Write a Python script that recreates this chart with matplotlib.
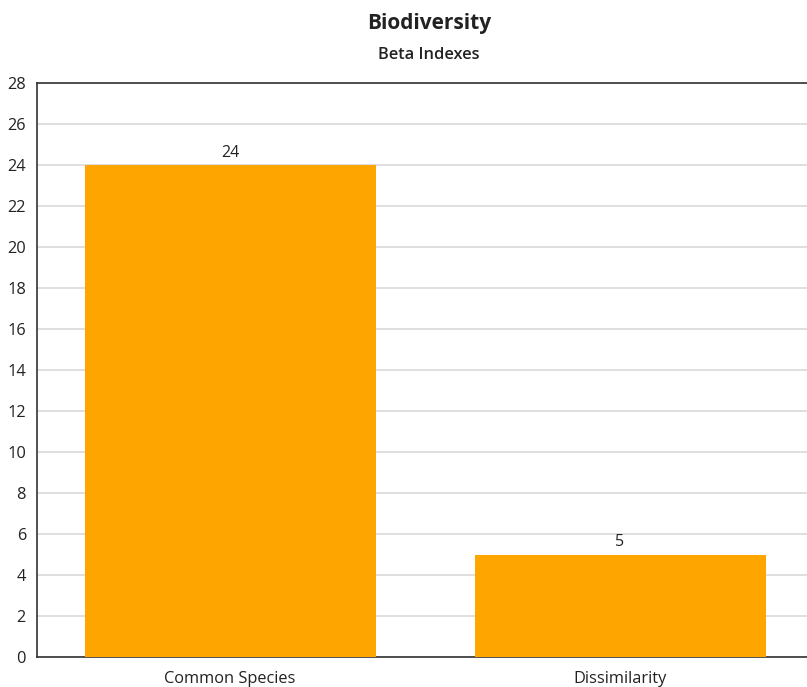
import matplotlib
matplotlib.use("Agg")
import matplotlib.pyplot as plt

plt.rcParams['font.family'] = ['Open Sans', 'DejaVu Sans']

categories = ["Common Species", "Dissimilarity"]
values = [24, 5]
y_ticks = list(range(0, 29, 2))

title = "Biodiversity"
subtitle = "Beta Indexes"

fig = plt.figure(figsize=(8.07, 6.87), dpi=100)
W, H = 807, 687
# plot area runs a little past the right edge of the canvas
ax = fig.add_axes([37 / W, (H - 657) / H, 780 / W, 574 / H])

x = range(len(categories))
bars = ax.bar(x, values, width=0.746, color="#FFA500", zorder=3)
for xi, v in zip(x, values):
    ax.text(xi, v + 0.2, f"{v}", ha="center", va="bottom",
            fontsize=11.5, color="#222222", zorder=4)

ax.set_xlim(-0.495, len(categories) - 0.495)
ax.set_ylim(0, 28)
ax.set_yticks(y_ticks)
ax.set_xticks(list(x))
ax.set_xticklabels(categories)
ax.tick_params(axis="both", length=0, labelsize=11.8, colors="#222222")
ax.tick_params(axis="y", pad=8)
ax.tick_params(axis="x", pad=10)

ax.yaxis.grid(True, color="#d9d9d9", linewidth=1.2, zorder=0)
ax.set_axisbelow(True)
for side in ["left", "bottom", "top"]:
    ax.spines[side].set_color("#333333")
    ax.spines[side].set_linewidth(1.2)
ax.spines["right"].set_visible(False)

cx = (37 + 392) / W
fig.text(cx, 1 - 23 / H, title, ha="center", va="center",
         fontsize=15, fontweight="bold", color="#222222")
fig.text(cx, 1 - 55 / H, subtitle, ha="center", va="center",
         fontsize=11.8, fontweight="semibold", color="#222222")

fig.savefig("out.png", dpi=100)
